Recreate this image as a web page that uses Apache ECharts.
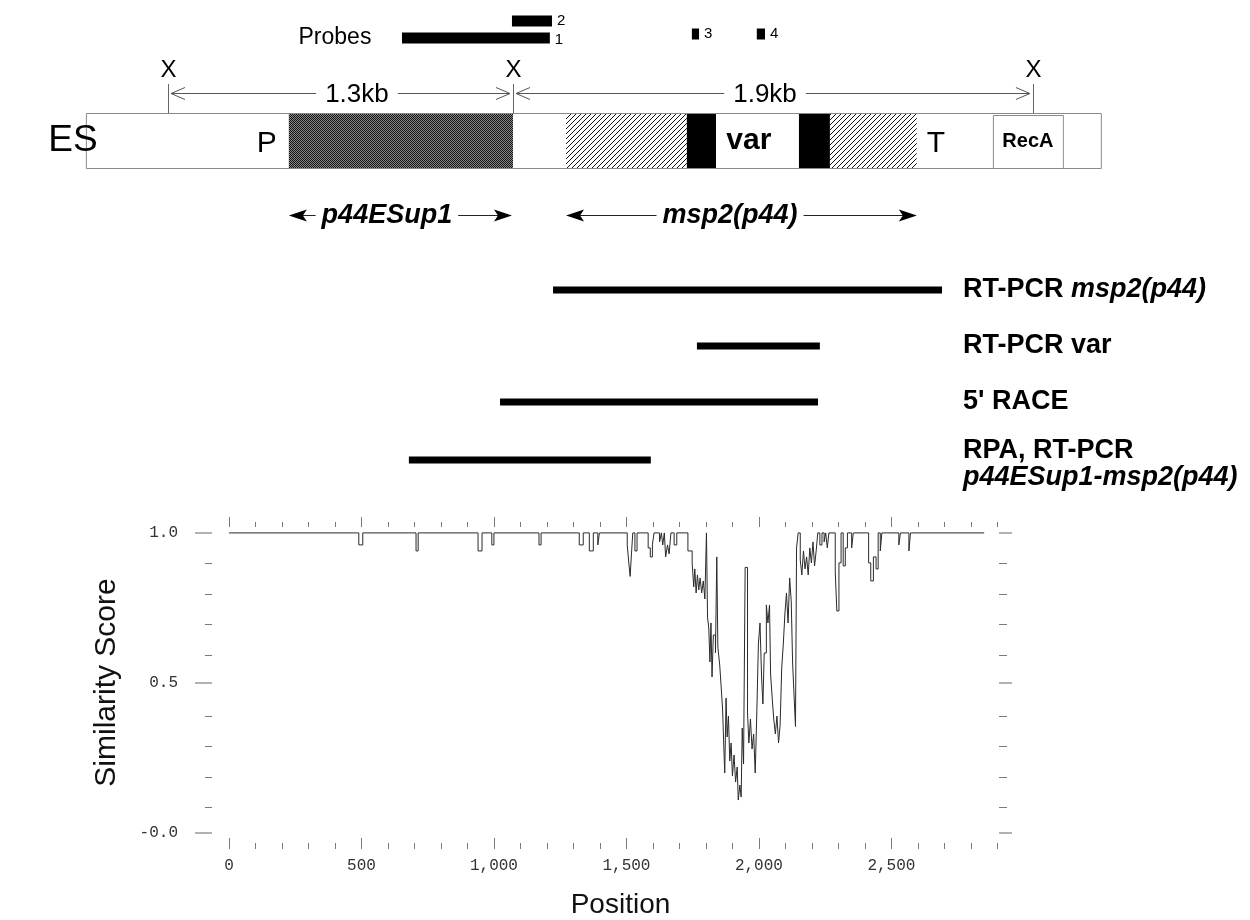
<!DOCTYPE html>
<html><head><meta charset="utf-8">
<script src="https://cdn.jsdelivr.net/npm/echarts@6/dist/echarts.min.js"></script>
<style>html,body{margin:0;padding:0;background:#fff}#c{width:1250px;height:920px}</style>
</head><body><div id="c"></div>
<script>
// ---------------- DATA ----------------
// Similarity profile (position, score), value held until next position
const simPos = [0,490,505,706,714,940,955,992,1000,1170,1178,1322,1337,1360,1375,1392,1398,1503,1509,1514,1519,1524,1532,1540,1582,1590,1598,1604,1625,1632,1637,1643,1648,1655,1661,1668,1680,1690,1732,1748,1754,1758,1763,1768,1773,1778,1784,1790,1796,1802,1806,1811,1815,1819,1823,1828,1836,1841,1845,1852,1858,1863,1867,1871,1876,1880,1885,1890,1895,1900,1906,1912,1918,1922,1928,1933,1937,1942,1948,1957,1962,1968,1974,1980,1986,1992,1998,2004,2010,2015,2020,2028,2034,2040,2044,2050,2056,2062,2068,2074,2080,2086,2092,2098,2104,2110,2116,2122,2127,2133,2138,2142,2148,2156,2162,2168,2174,2180,2186,2192,2198,2204,2210,2216,2222,2230,2238,2246,2252,2258,2264,2288,2294,2302,2310,2318,2326,2334,2350,2356,2414,2422,2432,2442,2450,2458,2464,2528,2534,2566,2572,2850];
const simScore = [1.0,0.96,1.0,0.94,1.0,0.94,1.0,0.96,1.0,0.96,1.0,0.96,1.0,0.94,1.0,0.96,1.0,0.96,0.9,0.855,0.93,1.0,0.94,1.0,0.95,0.92,0.96,1.0,0.97,1.0,0.96,1.0,0.92,0.96,0.93,1.0,0.96,1.0,0.94,0.9,0.82,0.88,0.8,0.86,0.81,0.85,0.8,0.84,0.78,1.0,0.72,0.68,0.57,0.7,0.52,0.66,0.6,0.92,0.62,0.56,0.48,0.41,0.3,0.2,0.45,0.32,0.39,0.24,0.3,0.19,0.26,0.17,0.22,0.11,0.16,0.12,0.35,0.23,0.885,0.4,0.3,0.38,0.28,0.33,0.2,0.4,0.63,0.7,0.52,0.43,0.6,0.76,0.7,0.76,0.53,0.45,0.38,0.33,0.39,0.3,0.36,0.55,0.63,0.73,0.8,0.7,0.85,0.77,0.57,0.45,0.355,0.95,1.0,0.91,0.86,0.94,0.88,0.92,0.86,0.95,0.9,0.97,0.89,0.94,1.0,0.96,1.0,0.97,1.0,0.95,1.0,0.87,0.74,0.9,1.0,0.89,0.95,1.0,0.95,1.0,0.9,0.84,0.92,0.88,1.0,0.94,1.0,0.96,1.0,0.94,1.0,1.0];

const xMajorTicks = [0,500,1000,1500,2000,2500];
const xMinorTicks = [0,100,200,300,400,500,600,700,800,900,1000,1100,1200,1300,1400,1500,1600,1700,1800,1900,2000,2100,2200,2300,2400,2500,2600,2700,2800,2900];
const yMajorTicks = [0,0.5,1.0];
const yMinorTicks = [0.1,0.2,0.3,0.4,0.6,0.7,0.8,0.9];
const yTickLabels = {'0':'-0.0','0.5':'0.5','1':'1.0'};

// Map features (same position scale)
const probeNames = ['1','2','3','4'];
const probeStart = [653,1068,1747,1992];
const probeEnd   = [1211,1219,1774,2023];

const segStart = [-540,226,1072,1272,1728,1838,2151,2268,2596,2883,3151];
const segEnd   = [226,1072,1272,1728,1838,2151,2268,2596,2883,3151,3294];
const segKind  = ['blank','stipple','blank','hatch','solid','blank','solid','hatch','blank','box','blank'];

const sitePos = [-230,1072,3034];
const kbFrom = [-230,1072];
const kbTo   = [1072,3034];
const kbText = ['1.3kb','1.9kb'];
const kbTextPos = [483,2023];

const boxLabelText = ['ES','P','var','T','RecA'];
const boxLabelPos  = [-589,143,1962,2668,3015];

const geneFrom = [226,1272];
const geneTo   = [1068,2596];
const geneText = ['p44ESup1','msp2(p44)'];
const geneTextPos = [596,1891];

const rtStart = [1223,1766,1023,679];
const rtEnd   = [2691,2230,2223,1592];
const rtLabels = ['RT-PCR {i|msp2(p44)}','RT-PCR var',"5' RACE",'RPA, RT-PCR\n{i|p44ESup1-msp2(p44)}'];
const rtLabelPos = 2770;
const probesTitlePos = 400;

// ---------------- LAYOUT / STYLE ----------------
const L = {
  probeY: {'1':38,'2':21,'3':34,'4':34}, probeH: 11,
  siteLabelY: 70, siteLineTop: 84, kbY: 93,
  boxTop: 113, boxBottom: 169, geneY: 215,
  rtY: [290,346,402,460], rtH: 7, multiLabelTop: 437
};
const SANS = 'Liberation Sans, Arial, sans-serif';
const MONO = 'Liberation Mono, DejaVu Sans Mono, monospace';
const boxLabelFont = [
  {fontSize:37, fontWeight:'normal'},
  {fontSize:30, fontWeight:'normal'},
  {fontSize:30, fontWeight:'bold'},
  {fontSize:30, fontWeight:'normal'},
  {fontSize:20, fontWeight:'bold'}
];

function makePattern(kind){
  const c = document.createElement('canvas');
  if (kind === 'hatch'){
    c.width = 5; c.height = 5;
    const g = c.getContext('2d');
    g.fillStyle = '#fff'; g.fillRect(0,0,5,5);
    g.strokeStyle = '#111'; g.lineWidth = 1;
    g.beginPath(); g.moveTo(-1,6); g.lineTo(6,-1); g.stroke();
    g.beginPath(); g.moveTo(-1,1); g.lineTo(1,-1); g.stroke();
    g.beginPath(); g.moveTo(4,6); g.lineTo(6,4); g.stroke();
  } else {
    c.width = 2; c.height = 2;
    const g = c.getContext('2d');
    g.fillStyle = '#8a8a8a'; g.fillRect(0,0,2,2);
    g.fillStyle = '#111'; g.fillRect(0,0,1,1); g.fillRect(1,1,1,1);
  }
  return {image: c, repeat: 'repeat'};
}
const hatchFill = makePattern('hatch');
const stippleFill = makePattern('stipple');

const chart = echarts.init(document.getElementById('c'), null, {renderer:'canvas'});
const MAPX = 4, MAPY = 4;
function px(api, v){ return api.coord([v, 0])[0]; }
function py(api, v){ return api.coord([0, v])[1]; }

const tickColor = '#7a7a7a';
function xAx(grid, pos, ticks, len, extra){
  return Object.assign({type:'value', gridIndex:grid, min:-64, max:2906, position:pos,
    axisLine:{show:false, onZero:false}, splitLine:{show:false},
    axisTick:{show:true, inside:false, length:len, customValues:ticks, lineStyle:{color:tickColor}},
    axisLabel:{show:false}}, extra || {});
}
function yAx(grid, pos, ticks, len, extra, tcol, tw){
  return Object.assign({type:'value', gridIndex:grid, min:-0.0164, max:1.0197, position:pos,
    axisLine:{show:false, onZero:false}, splitLine:{show:false},
    axisTick:{show:true, inside:false, length:len, customValues:ticks, lineStyle:{color:tcol||tickColor, width:tw||1}},
    axisLabel:{show:false}}, extra || {});
}
const plotRect = {left:212, top:527, width:787, height:316};

const option = {
  animation: false,
  backgroundColor: '#fff',
  grid: [
    Object.assign({}, plotRect),
    Object.assign({}, plotRect),
    {left:212, top:0, width:787, height:920}
  ],
  xAxis: [
    xAx(0, 'bottom', xMajorTicks, 11, {
      axisLabel:{show:true, customValues:xMajorTicks, margin:20, fontFamily:MONO, fontSize:16, color:'#333',
        formatter: v => Number(v).toLocaleString('en-US')},
      name:'Position', nameLocation:'middle', nameGap:53,
      nameTextStyle:{fontFamily:SANS, fontSize:28, color:'#111', padding:[0,0,0,30]}}),
    xAx(0, 'top', xMajorTicks, 10),
    xAx(1, 'bottom', xMinorTicks, 6),
    xAx(1, 'top', xMinorTicks, 5),
    {type:'value', gridIndex:2, min:-64, max:2906, show:false}
  ],
  yAxis: [
    yAx(0, 'left', yMajorTicks, 17, {
      axisLabel:{show:true, customValues:yMajorTicks, margin:34, fontFamily:MONO, fontSize:16, color:'#333',
        formatter: v => yTickLabels[String(v)] || String(v)},
      name:'Similarity Score', nameLocation:'middle', nameGap:90, nameRotate:90,
      nameTextStyle:{fontFamily:SANS, fontSize:30, color:'#111'}}, '#999', 1.5),
    yAx(0, 'right', yMajorTicks, 13, null, '#999', 1.5),
    yAx(1, 'left', yMinorTicks, 7),
    yAx(1, 'right', yMinorTicks, 8),
    {type:'value', gridIndex:2, min:0, max:920, inverse:true, show:false}
  ],
  series: [
    {
      type:'line', xAxisIndex:0, yAxisIndex:0, step:'end', symbol:'none', silent:true,
      lineStyle:{width:1, color:'#2a2a2a'},
      data: simPos.map((p,i)=>[p, simScore[i]])
    },
    // gene map box segments
    {
      type:'custom', xAxisIndex:MAPX, yAxisIndex:MAPY, clip:false, silent:true,
      data: segStart.map((s,i)=>[s, segEnd[i]]),
      renderItem(params, api){
        const i = params.dataIndex, k = segKind[i];
        const x1 = px(api, api.value(0)), x2 = px(api, api.value(1));
        const y1 = py(api, L.boxTop), y2 = py(api, L.boxBottom);
        let fill = '#fff';
        if (k==='hatch') fill = hatchFill;
        else if (k==='stipple') fill = stippleFill;
        else if (k==='solid') fill = '#000';
        const children = [{type:'rect', shape:{x:x1, y:y1, width:x2-x1, height:y2-y1}, style:{fill:fill, stroke:'none'}}];
        if (k==='box') children.push({type:'rect', shape:{x:x1+0.5, y:y1+2.5, width:x2-x1-1, height:y2-y1-3}, style:{fill:'none', stroke:'#8a8a8a', lineWidth:1}});
        return {type:'group', children};
      }
    },
    // outline of the map box
    {
      type:'custom', xAxisIndex:MAPX, yAxisIndex:MAPY, clip:false, silent:true,
      data: [[segStart[0], segEnd[segEnd.length-1]]],
      renderItem(params, api){
        const x1 = px(api, api.value(0)), x2 = px(api, api.value(1));
        const y1 = py(api, L.boxTop), y2 = py(api, L.boxBottom);
        return {type:'rect', shape:{x:x1+0.5, y:y1+0.5, width:x2-x1-1, height:y2-y1-1}, style:{fill:'none', stroke:'#8a8a8a', lineWidth:1}};
      }
    },
    // labels inside map box (ES, P, var, T, RecA)
    {
      type:'custom', xAxisIndex:MAPX, yAxisIndex:MAPY, clip:false, silent:true,
      data: boxLabelPos.map(p=>[p]),
      renderItem(params, api){
        const i = params.dataIndex, f = boxLabelFont[i];
        const yc = (py(api, L.boxTop)+py(api, L.boxBottom))/2 + (i===1||i===3 ? 3 : 0);
        return {type:'text', x:px(api, api.value(0)), y:yc,
          style:{text:boxLabelText[i], fontFamily:SANS, fontSize:f.fontSize, fontWeight:f.fontWeight, fill:'#000', align:'center', verticalAlign:'middle'}};
      }
    },
    // restriction sites X
    {
      type:'custom', xAxisIndex:MAPX, yAxisIndex:MAPY, clip:false, silent:true,
      data: sitePos.map(p=>[p]),
      renderItem(params, api){
        const x = Math.round(px(api, api.value(0)))+0.5;
        return {type:'group', children:[
          {type:'line', shape:{x1:x, y1:py(api, L.siteLineTop), x2:x, y2:py(api, L.boxTop)}, style:{stroke:'#666', lineWidth:1}},
          {type:'text', x:x, y:py(api, L.siteLabelY), style:{text:'X', fontFamily:SANS, fontSize:24, fill:'#000', align:'center', verticalAlign:'middle'}}
        ]};
      }
    },
    // kb distance arrows
    {
      type:'custom', xAxisIndex:MAPX, yAxisIndex:MAPY, clip:false, silent:true,
      data: kbFrom.map((f,i)=>[f, kbTo[i], kbTextPos[i]]),
      renderItem(params, api){
        const i = params.dataIndex;
        const x1 = px(api, api.value(0)) + 3, x2 = px(api, api.value(1)) - 3, y = Math.round(py(api, L.kbY))+0.5;
        const st = {stroke:'#555', lineWidth:1, fill:null};
        return {type:'group', children:[
          {type:'line', shape:{x1:x1, y1:y, x2:x2, y2:y}, style:st},
          {type:'polyline', shape:{points:[[x1+14,y-6],[x1,y],[x1+14,y+6]]}, style:st},
          {type:'polyline', shape:{points:[[x2-14,y-6],[x2,y],[x2-14,y+6]]}, style:st},
          {type:'text', x:px(api, api.value(2)), y:y+1, style:{text:kbText[i], fontFamily:SANS, fontSize:26, fill:'#000', align:'center', verticalAlign:'middle', backgroundColor:'#fff', padding:[0,9]}}
        ]};
      }
    },
    // probes
    {
      type:'custom', xAxisIndex:MAPX, yAxisIndex:MAPY, clip:false, silent:true,
      data: probeStart.map((s,i)=>[s, probeEnd[i]]),
      renderItem(params, api){
        const i = params.dataIndex, yc = py(api, L.probeY[probeNames[i]]);
        const x1 = px(api, api.value(0)), x2 = px(api, api.value(1));
        return {type:'group', children:[
          {type:'rect', shape:{x:x1, y:yc-L.probeH/2, width:x2-x1, height:L.probeH}, style:{fill:'#000'}},
          {type:'text', x:x2+5, y:yc+(i===0?2:0), style:{text:probeNames[i], fontFamily:SANS, fontSize:15, fill:'#000', align:'left', verticalAlign:'middle'}}
        ]};
      }
    },
    // "Probes" title
    {
      type:'custom', xAxisIndex:MAPX, yAxisIndex:MAPY, clip:false, silent:true,
      data: [[probesTitlePos]],
      renderItem(params, api){
        return {type:'text', x:px(api, api.value(0)), y:py(api, L.probeY['1']), style:{text:'Probes', fontFamily:SANS, fontSize:23, fill:'#000', align:'center', verticalAlign:'middle'}};
      }
    },
    // gene name arrows
    {
      type:'custom', xAxisIndex:MAPX, yAxisIndex:MAPY, clip:false, silent:true,
      data: geneFrom.map((f,i)=>[f, geneTo[i], geneTextPos[i]]),
      renderItem(params, api){
        const i = params.dataIndex;
        const x1 = px(api, api.value(0)), x2 = px(api, api.value(1)), y = Math.round(py(api, L.geneY))+0.5;
        return {type:'group', children:[
          {type:'line', shape:{x1:x1+8, y1:y, x2:x2-8, y2:y}, style:{stroke:'#222', lineWidth:1}},
          {type:'polygon', shape:{points:[[x1,y],[x1+18,y-6],[x1+14,y],[x1+18,y+6]]}, style:{fill:'#000'}},
          {type:'polygon', shape:{points:[[x2,y],[x2-18,y-6],[x2-14,y],[x2-18,y+6]]}, style:{fill:'#000'}},
          {type:'text', x:px(api, api.value(2)), y:y, style:{text:geneText[i], fontFamily:SANS, fontSize:27, fontWeight:'bold', fontStyle:'italic', fill:'#000', align:'center', verticalAlign:'middle', backgroundColor:'#fff', padding:[0,6]}}
        ]};
      }
    },
    // RT-PCR / RACE / RPA bars with labels
    {
      type:'custom', xAxisIndex:MAPX, yAxisIndex:MAPY, clip:false, silent:true,
      data: rtStart.map((s,i)=>[s, rtEnd[i], rtLabelPos]),
      renderItem(params, api){
        const i = params.dataIndex, yc = py(api, L.rtY[i]);
        const x1 = px(api, api.value(0)), x2 = px(api, api.value(1));
        const multi = rtLabels[i].indexOf('\n') >= 0;
        return {type:'group', children:[
          {type:'rect', shape:{x:x1, y:yc-L.rtH/2, width:x2-x1, height:L.rtH}, style:{fill:'#000'}},
          {type:'text', x:px(api, api.value(2)), y: multi ? py(api, L.multiLabelTop) : yc,
            style:{text:rtLabels[i], fontFamily:SANS, fontSize:27, fontWeight:'bold', fill:'#000', align:'left',
              verticalAlign: multi ? 'top' : 'middle', lineHeight:27,
              rich:{i:{fontFamily:SANS, fontSize:27, fontWeight:'bold', fontStyle:'italic', fill:'#000', lineHeight:27}}}}
        ]};
      }
    }
  ]
};
chart.setOption(option);
</script>
</body></html>
